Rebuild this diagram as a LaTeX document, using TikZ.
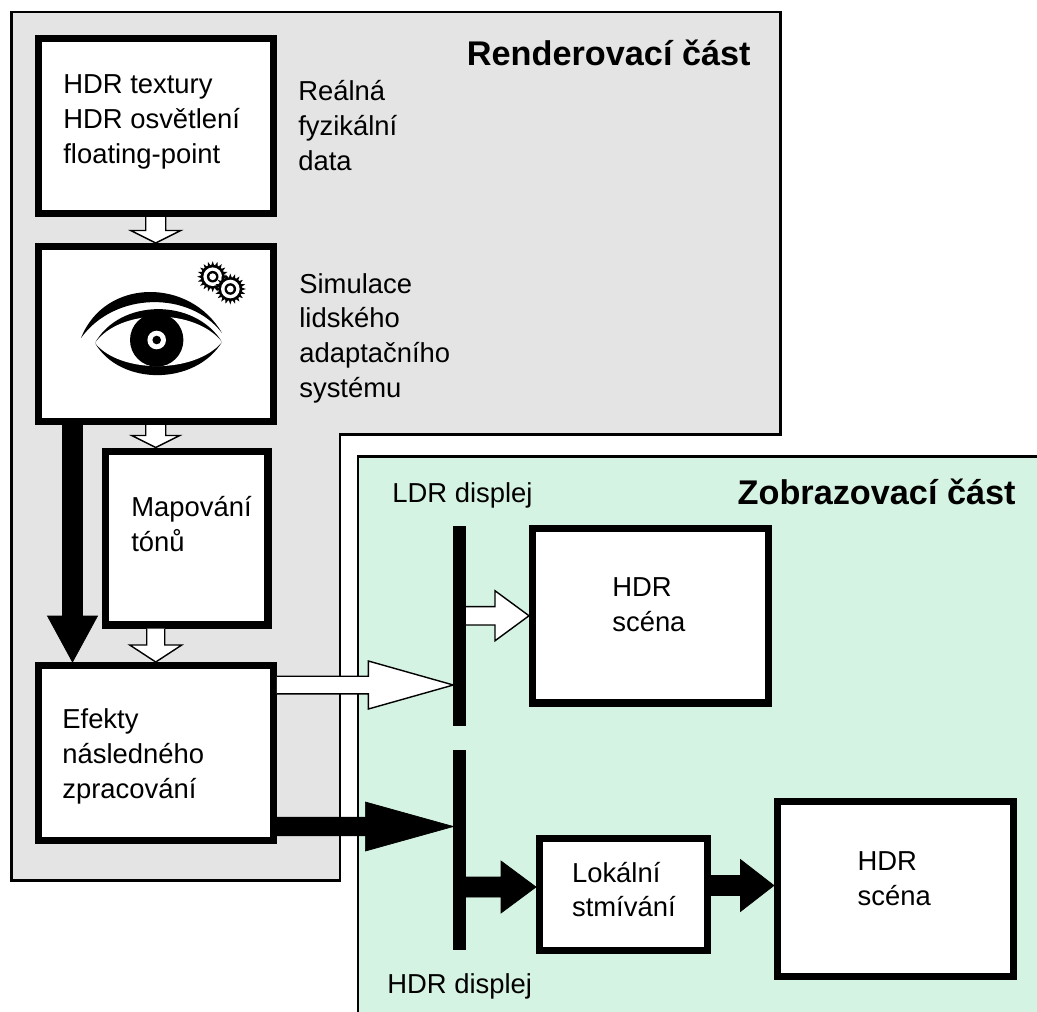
\documentclass[tikz,border=0pt]{standalone}
\usepackage{fontspec}
\setmainfont{Liberation Sans}
\usetikzlibrary{calc}

\definecolor{rendergray}{HTML}{E4E4E4}
\definecolor{displaygreen}{HTML}{D5F3E2}

\tikzset{
  panel/.style={draw=black, line width=1.7pt},
  box/.style={draw=black, fill=white, line width=4pt, inner sep=0pt, outer sep=0.5\pgflinewidth},
  bar/.style={fill=black, inner sep=0pt, outer sep=0pt, minimum width=0.254cm, minimum height=4cm},
  txt/.style={anchor=base west, align=left, inner sep=0pt, font=\fontsize{15.6}{19.7}\selectfont},
  paneltitle/.style={anchor=base east, inner sep=0pt, font=\bfseries\fontsize{19.5}{23}\selectfont},
  whitearrow/.style={draw=black, fill=white, line width=0.8pt, miter limit=20},
  blackarrow/.style={draw=black, fill=black, line width=0.4pt, miter limit=20}
}

\newcommand{\blockarrow}[6][whitearrow]{
  \coordinate (headbase) at ($(#3)!#5!(#2)$);
  \filldraw [#1] ($(#2)!#4!90:(#3)$) -- ($(headbase)!#4!90:(#3)$) -- ($(headbase)!#6!90:(#3)$)
    -- (#3) -- ($(headbase)!#6!-90:(#3)$) -- ($(headbase)!#4!-90:(#3)$) -- ($(#2)!#4!-90:(#3)$);
}

\newcommand{\gear}[1]{
  \begin{scope}[shift={(#1)}]
    \foreach \a in {0,18,...,342}
      \fill [black] (\a-7:11.5) -- (\a:15.5) -- (\a+7:11.5) -- cycle;
    \fill [black] (0,0) circle (12);
    \fill [white] (0,0) circle (9.3);
    \fill [black] (0,0) circle (5.8);
    \fill [white] (0,0) circle (3.4);
  \end{scope}
}

\begin{document}
\begin{tikzpicture}[x=0.02cm, y=-0.02cm]
  \useasboundingbox (0,0) rectangle (1037,1011);

  \filldraw [panel, fill=rendergray] (11.5,12) -- (780.5,12) -- (780.5,434.5) -- (340,434.5) -- (340,880) -- (11.5,880) -- cycle;
  \filldraw [panel, fill=displaygreen] (1060,456) -- (358,456) -- (358,1030) -- (1060,1030);

  \node [paneltitle] (rendertitle) at (751,65.5) {Renderovací část};
  \node [paneltitle] (displaytitle) at (1016,504.5) {Zobrazovací část};

  \node [box, minimum width=4.71cm, minimum height=3.5cm] (hdrdata) at (155.75,126) {};
  \node [box, minimum width=4.71cm, minimum height=3.5cm] (eyebox) at (155.75,334) {};
  \node [box, minimum width=3.26cm, minimum height=3.48cm] (tonemap) at (186.5,538) {};
  \node [box, minimum width=4.71cm, minimum height=3.5cm] (postfx) at (155.75,753) {};
  \node [box, minimum width=4.72cm, minimum height=3.49cm] (ldrscene) at (650.5,615.75) {};
  \node [box, minimum width=3.36cm, minimum height=2.23cm] (dimming) at (623.5,894.7) {};
  \node [box, minimum width=4.72cm, minimum height=3.5cm] (hdrscene) at (895.4,889.2) {};
  \node [bar] (ldrbar) at (459.7,626) {};
  \node [bar] (hdrbar) at (459.7,850) {};

  \node [txt] (hdrdatatext) at (63,163) {HDR textury\\HDR osvětlení\\floating-point};
  \node [txt] (realtext) at (298,170) {Reálná\\fyzikální\\data};
  \node [txt] (simtext) at (299,397) {Simulace\\lidského\\adaptačního\\systému};
  \node [txt] (tonemaptext) at (131,551) {Mapování\\tónů};
  \node [txt] (postfxtext) at (62,798) {Efekty\\následného\\zpracování};
  \node [txt] (ldrtext) at (392,502) {LDR displej};
  \node [txt] (hdrtext) at (387,993) {HDR displej};
  \node [txt] (ldrscenetext) at (612,631) {HDR\\scéna};
  \node [txt] (dimmingtext) at (571.7,916.7) {Lokální\\stmívání};
  \node [txt] (hdrscenetext) at (857.3,905) {HDR\\scéna};

  \coordinate (trunk) at (72.5,0);
  \coordinate (whiterow) at (0,685);
  \coordinate (blackrow) at (0,826.5);
  \coordinate (dimrow) at (0,887);
  \coordinate (dimoutrow) at (0,885.5);

  \blockarrow{hdrdata.south}{eyebox.north}{0.2cm}{0.25cm}{0.5cm}
  \blockarrow{eyebox.south}{eyebox.south |- tonemap.north}{0.2cm}{0.24cm}{0.48cm}
  \blockarrow{postfx.north |- tonemap.south}{postfx.north}{0.18cm}{0.34cm}{0.52cm}
  \blockarrow[blackarrow]{trunk |- eyebox.south}{trunk |- postfx.north}{0.2cm}{0.92cm}{0.5cm}
  \blockarrow{postfx.east |- whiterow}{ldrbar.west |- whiterow}{0.176cm}{1.7cm}{0.48cm}
  \blockarrow[blackarrow]{postfx.east |- blackrow}{hdrbar.west |- blackrow}{0.186cm}{1.76cm}{0.49cm}
  \blockarrow{ldrbar.east |- ldrscene.west}{ldrscene.west}{0.184cm}{0.68cm}{0.5cm}
  \blockarrow[blackarrow]{hdrbar.east |- dimrow}{dimming.west |- dimrow}{0.2cm}{0.7cm}{0.52cm}
  \blockarrow[blackarrow]{dimming.east |- dimoutrow}{hdrscene.west |- dimoutrow}{0.2cm}{0.67cm}{0.52cm}

  \fill [black] (81,338) .. controls (105,277.5) and (190,277.5) .. (222,333) .. controls (190,291) and (115,291) .. (81,338) -- cycle;
  \fill [black] (95,343) .. controls (120,298) and (195,298) .. (222,342) .. controls (195,386) and (120,386) .. (95,343) -- cycle;
  \fill [white] (95,343) .. controls (120,308) and (195,308) .. (222,342) .. controls (195,374) and (120,374) .. (95,343) -- cycle;
  \fill [black] (156.7,340) circle (26.7);
  \fill [white] (156.7,340) circle (9.3);
  \fill [black] (156.7,340) circle (4.3);

  \gear{212.7,276.7}
  \gear{230.3,289}
\end{tikzpicture}
\end{document}
